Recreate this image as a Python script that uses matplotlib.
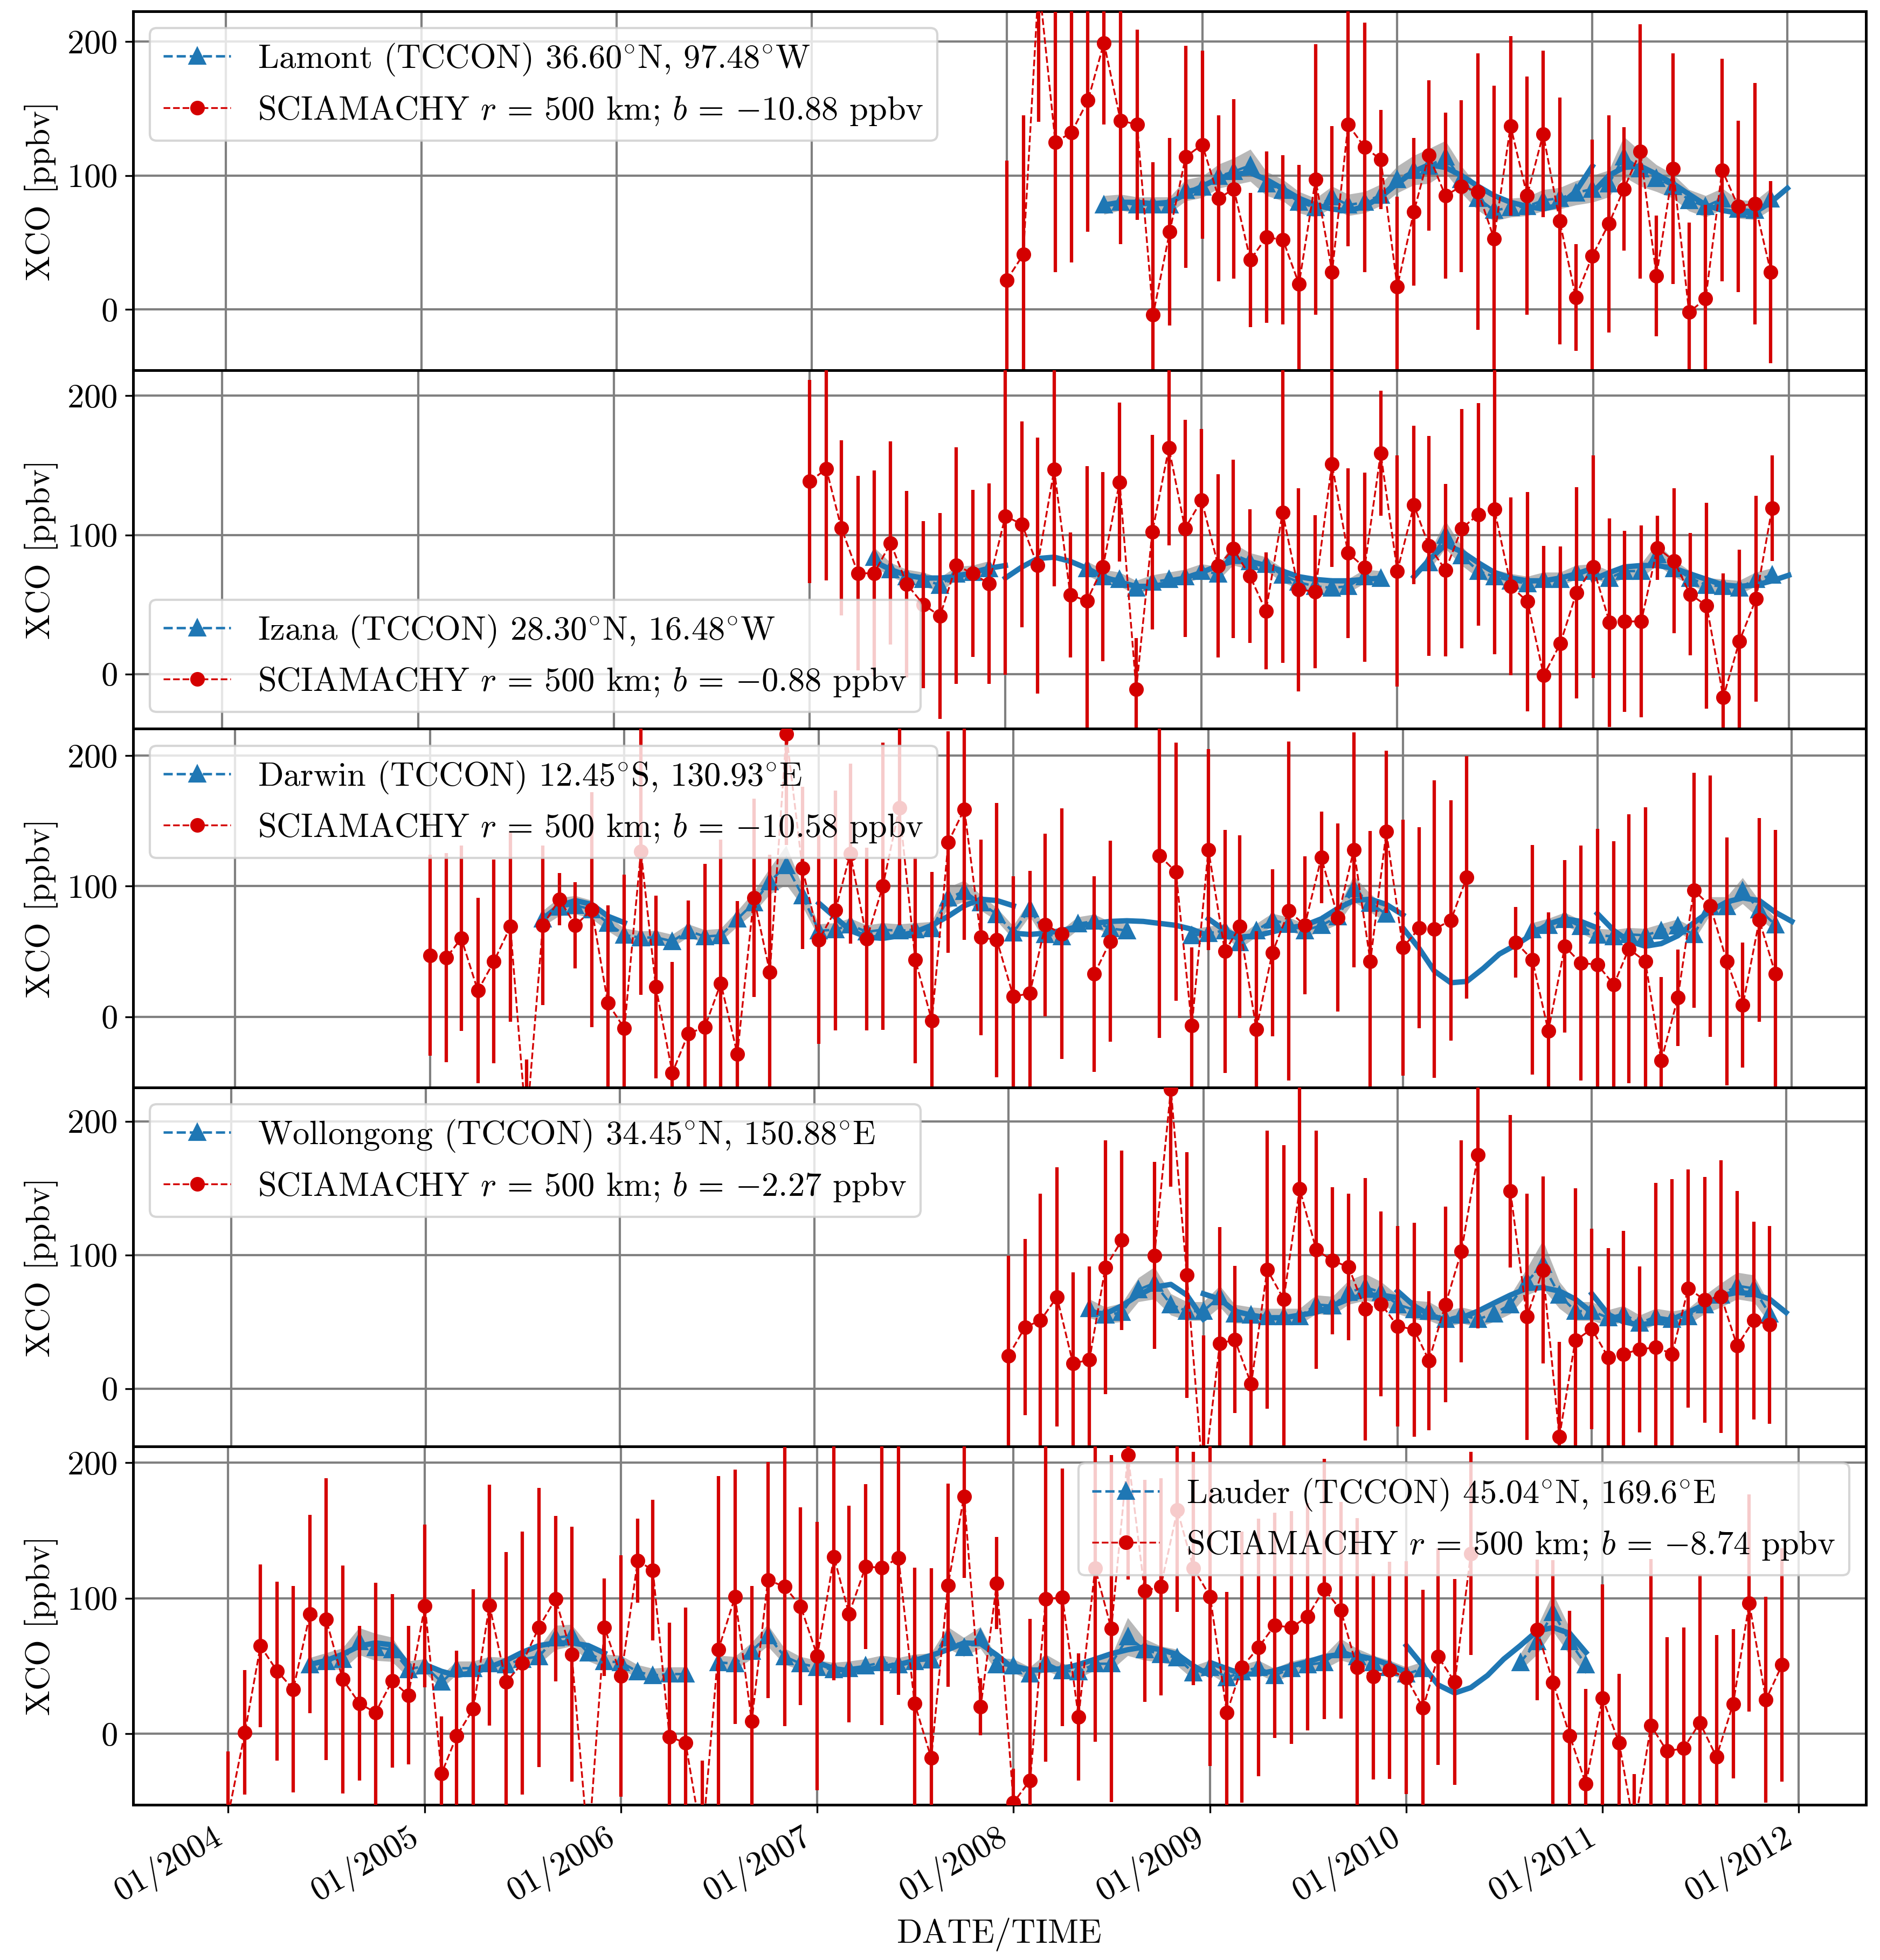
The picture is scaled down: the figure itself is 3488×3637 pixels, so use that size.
import numpy as np
import pandas as pd
import matplotlib
matplotlib.use("Agg")
import matplotlib.pyplot as plt
import matplotlib.dates as mdates
from matplotlib.ticker import MultipleLocator

plt.rcParams["font.family"] = ["cmr10", "DejaVu Serif"]
plt.rcParams["mathtext.fontset"] = "cm"
plt.rcParams["axes.formatter.use_mathtext"] = True
plt.rcParams["font.size"] = 15

nan = np.nan

# ---- Lamont ----
lamont_sci_start = "2008-01"
lamont_sci = [22, 41, 245, 125, 132, 156, 199, 141, 138, -4, 58, 114, 123, 83, 90, 37, 54, 52, 19, 97,
              28, 138, 121, 112, 17, 73, 115, 85, 92, 88, 53, 137, 85, 131, 66, 9, 40, 64, 90, 118,
              25, 105, -2, 8, 104, 77, 79, 28]
lamont_sci_err = [89, 104, 105, 97, 97, 98, 61, 92, 71, 114, 70, 83, 70, 62, 67, 50, 64, 63, 89, 101,
                  109, 91, 93, 37, 67, 55, 56, 62, 64, 103, 114, 67, 89, 62, 92, 40, 87, 81, 46, 95,
                  45, 86, 67, 70, 83, 64, 90, 68]
lamont_tc_start = "2008-07"
lamont_tc = [78, 80, 78, 78, 78, 89, 91.5, 99.5, 103, 107.6, 94, 89, 80, 76, 84, 78, 80, 85.5, 97, 104,
             107, 114, 97, 83, 74, 76, 77, 81.5, 83, 87, 90, 94, 114, 105, 98, 92, 81.5, 77, 82.5, 75,
             74, 82.5]
lamont_tc_sd = [7, 6, 6, 6, 6, 8, 8, 9, 10, 12, 9, 8, 8, 7, 8, 8, 8, 8, 10, 11,
                13, 12, 10, 9, 8, 7, 7, 8, 8, 9, 10, 10, 15, 13, 10, 9, 8, 8, 8, 7, 7, 8]
lamont_fit = [("2008-07", [78, 80, 80, 79, 80, 86, 92, 98, 101, 102, 97, 90, 83, 78, 75, 73.5, 77, 84,
                           94, 103, 108, 106, 100, 92, 85, 80, 77, 75, 78, 88, 107]),
              ("2011-01", [87, 100, 106, 107, 101, 94, 86, 78, 74, 72, 72.5, 80, 90.5])]

# ---- Izana ----
izana_sci_start = "2007-01"
izana_sci = [138.5, 147.4, 105, 72.4, 72.4, 94.2, 64.6, 50, 41.6, 78, 72.4, 65, 113.5, 107.6, 78,
             147, 56.8, 52.6, 77, 138, -11, 102, 162.6, 104.6, 125, 77.7, 90, 70.5, 45.3, 116,
             60.6, 59.3, 151, 87, 76.6, 158.7, 74, 121.4, 92, 74.7, 104.6, 114.7, 118.4, 63, 52,
             -1, 21.8, 58.4, 77, 37, 37.8, 37.8, 90.7, 81.4, 57.3, 49.2, -16.8, 23.5, 54, 119.2]
izana_sci_err = [73, 80, 63, 70, 74, 73, 67, 60, 74, 85, 60, 72, 114, 74, 92, 84, 45, 97, 68, 57,
                 37, 70, 70, 78, 51, 66, 64, 48, 42, 108, 73, 55, 74, 61, 68, 45, 83, 57, 79, 62,
                 86, 80, 104, 64, 79, 93, 70, 76, 80, 75, 65, 69, 23, 52, 44, 74, 89, 66, 74, 38]
izana_tc_start = "2007-05"
izana_tc = [84, 75, 70, 68, 64, 72, 73, 76, nan, nan, nan, nan, nan,
            76, 70, 68, 62, 66, 68, 70, 74, 72, 86, 81, 79, 71, 66, 63, 62, 63, 70, 69, nan, nan,
            80, 100, 85, 74, 70, 67, 65, 68, 68, 73, 74, 69, 74, 74, 86, 76, 69, 64, 63, 62, 68, 71]
izana_tc_sd = [7, 5, 5, 5, 5, 5, 5, 5, nan, nan, nan, nan, nan,
               5, 5, 5, 5, 5, 5, 5, 5, 5, 8, 6, 5, 5, 5, 5, 5, 5, 5, 5, nan, nan,
               6, 10, 7, 5, 5, 5, 5, 5, 5, 5, 5, 5, 5, 5, 8, 6, 5, 5, 5, 5, 5, 5]
izana_fit = [("2007-05", [81, 75, 71, 69, 69, 70, 73, 76, 78]),
             ("2008-01", [69, 77, 83, 84, 81, 76, 70, 66, 63, 63, 65, 69, 73, 78, 81, 81, 78, 74,
                          70, 68, 67, 67, 68, 69]),
             ("2010-02", [70, 82, 93, 88, 80, 73, 69, 67, 67, 69, 72, 76]),
             ("2011-01", [68, 73, 77, 78, 78, 76, 72, 68, 64, 63, 64, 67, 71])]

# ---- Darwin ----
darwin_sci_start = "2005-01"
darwin_sci = [47, 45.3, 60, 19.9, 42.2, 69, -85, 70, 90, 70, 82, 10.4, -9, 126.7, 22.9, -43, -13, -8,
              25.6, -28.6, 91.2, 34, 216.5, 114, 59, 81.4, 125, 59.6, 100, 160, 43.5, -3, 133.8, 159,
              60.8, 58.7, 15.4, 17.9, 70.3, 63.5, nan, 32.7, 57.8, nan, nan, 123.5, 111, -7, 128, 50,
              69, -9.5, 49, 81, 70, 122, 76, 128, 42.4, 141.7, 53, 68, 67, 73.8, 106.9, nan, nan, 57,
              43.6, -11, 53.8, 41, 40, 24.5, 52, 42.4, -33.8, 14.5, 97, 84.7, 42.5, 8.8, 74, 33]
darwin_sci_err = [77, 80, 71, 71, 78, 73, 52, 61, 20, 33, 90, 75, 118, 110, 70, 85, 102, 125, 110, 117,
                  76, 90, 85, 62, 80, 92, 69, 70, 110, 90, 79, 114, 85, 100, 75, 105, 92, 94, 70, 96,
                  nan, 75, 77, nan, nan, 140, 99, 60, 77, 93, 70, 75, 64, 130, 53, 35, 72, 90, 100, 62,
                  98, 77, 114, 92, 93, nan, nan, 27, 88, 91, 66, 90, 104, 110, 103, 118, 64, 37, 90, 100,
                  95, 48, 78, 110]
darwin_tc_start = "2005-08"
darwin_tc = [75, 84, 85.5, 82, 71.6, 62.6, 60.5, 60.8, 57.8, 65.8, 61.4, 62.3, 74.8, 87.3, 103.4, 116, 92.7,
             65.8, 66.7, 70.3, 65, 66.7, 65.8, 66.7, 67.6, 90.9, 96.2, 87.3, 78.4, 64.4, 82.8, 63.1, 61.4,
             71.2, 73.3, 67.6, 66, nan, nan, nan,
             62, 64, 66, 57, 66, 74, 71, 66, 70, 76.5, 98, 87, 78.5,
             nan, nan, nan, nan, nan, nan, nan, nan,
             66.7, 70, 74.7, 69, 62.4, 61.5, 63, 62.4, 66, 69.5, 63, 84.6, 84.6, 96.3, 82, 70.4]
darwin_tc_sd = [6, 7, 7, 7, 6, 5, 5, 5, 5, 5, 5, 5, 6, 8, 10, 15, 8,
                5, 5, 5, 5, 5, 5, 5, 5, 8, 8, 6, 5, 5, 6, 5, 5, 5, 5, 5, 5, nan, nan, nan,
                5, 5, 5, 5, 5, 5, 5, 5, 5, 6, 10, 7, 6,
                nan, nan, nan, nan, nan, nan, nan, nan,
                5, 5, 5, 5, 5, 5, 5, 5, 5, 5, 5, 7, 7, 10, 7, 5]
darwin_fit = [("2005-08", [75, 85, 89, 86, 77, 72]),
              ("2007-01", [87, 76, 66, 61, 60, 62, 65, 70, 77, 85, 90, 89, 85]),
              ("2008-01", [64, 63, 64, 66, 69, 71.5, 73, 73.5, 73, 71.5, 70, 67, 62]),
              ("2009-01", [75, 66, 61, 62, 65, 68, 70, 75, 83, 89, 90, 86, 78]),
              ("2010-01", [68, 52, 35, 26, 27, 37, 48, 55, 63, 71, 75, 73, 68]),
              ("2011-01", [79, 66, 58, 54, 56, 62, 72, 81, 88, 91, 89, 80, 73])]

# ---- Wollongong ----
woll_sci_start = "2008-01"
woll_sci = [24.6, 46, 51, 68.6, 18.9, 21.5, 90.8, 111, nan, 99.6, 224, 85, -70, 33.7, 36.7, 3.5, 89, 67,
            149.5, 104, 95.7, 91, 59.4, 63.4, 46.8, 44.2, 21, 63, 102.7, 175, nan, 147.8, 53.8, 88.7,
            -36, 36, 44.7, 23.2, 25.9, 29.3, 31, 25.9, 75, 66.4, 69, 32, 51, 47.7]
woll_sci_err = [75, 66, 95, 97, 68, 70, 95, 67, nan, 70, 73, 92, 110, 87, 55, 48, 104, 115, 100, 89,
                55, 55, 98, 69, 75, 80, 52, 73, 83, 130, nan, 57, 92, 70, 71, 114, 75, 82, 92, 62,
                123, 131, 89, 92, 102, 116, 74, 74]
woll_tc_start = "2008-06"
woll_tc = [60, 55, 57, 74, 79, 63, 58, 58, 69, 56, 55, 54, 54, 54, 63, 62, 72, 76, 72, 63,
           59, 58, 52, 55, 52, 56, 63, 80, 93, 70, 58, 58, 53, 56, 49, 54, 52, 54, 63, 70, 77, 75, 56]
woll_tc_sd = [7, 6, 7, 9, 12, 8, 7, 7, 8, 7, 6, 6, 6, 6, 7, 7, 9, 10, 8, 7,
              7, 7, 6, 6, 6, 6, 7, 10, 18, 10, 7, 7, 6, 6, 6, 6, 6, 6, 7, 9, 10, 10, 7]
woll_fit = [("2008-06", [57, 56, 62, 70, 76, 78, 70, 52]),
            ("2009-01", [71, 67, 58, 55, 53, 53, 55, 57, 62, 67, 70, 70, 68]),
            ("2010-01", [73, 62, 55.5, 51, 53, 58, 64, 70, 75, 75.6, 73, 67, 57]),
            ("2011-01", [71, 55.5, 50, 47.7, 49.4, 52, 57, 63, 69.5, 72, 71, 67, 57])]

# ---- Lauder ----
lauder_sci_start = "2004-01"
lauder_sci = [-60, 0.9, 64.7, 46.2, 32.8, 88.3, 84.5, 40, 22.4, 15.5, 39, 28.4, 94.3, -29.3, -1.7, 18.4,
              94.8, 38, 52, 78.4, 99.5, 58.6, -85, 78.4, 42.6, 127.6, 120.7, -2.2, -6.9, -80, 62, 101,
              9.1, 113.3, 108.6, 94, 57.4, 130.5, 88.4, 123.3, 122.4, 129.7, 22.4, -18, 109.5, 175,
              19.8, 111, -50.8, -34.4, 99.3, 100.7, 12.4, 122, 77.5, 205.7, 105.5, 108.4, 165, 122,
              101.2, 15.5, 49, 63.7, 80, 78.3, 86.4, 106.7, 91.2, 49, 42.2, 46.8, 41.3, 19, 56.8,
              38.2, 133, nan, nan, nan, 76.6, 37.9, -1.4, -37, 26.2, -6.9, -70, 6, -12.9, -10.8,
              8.1, -17.2, 22, 96.4, 25, 50.8]
lauder_sci_err = [47, 46, 60, 66, 76, 73, 104, 84, 57, 96, 64, 51, 60, 42, 63, 88, 89, 96, 97, 103,
                  61, 94, 30, 36, 89, 31, 52, 84, 100, 60, 128, 94, 100, 87, 103, 73, 99, 91, 80, 61,
                  116, 101, 100, 140, 75, 60, 21, 34, 25, 119, 120, 95, 47, 128, 128, 92, 82, 80, 75, 86,
                  125, 89, 100, 95, 83, 86, 84, 96, 80, 110, 76, 80, 86, 87, 80, 76, 75, nan, nan, nan,
                  52, 90, 92, 70, 84, 51, 40, 123, 84, 89, 109, 90, 55, 80, 76, 86]
lauder_tc_start = "2004-06"
lauder_tc = [50.9, 53.4, 55, 68, 63.8, 62, 47.4, 50, 38, 48.3,
             48.3, 51.7, 50.9, 55, 57, 70.7, 72.4, 59.5, 53.4, 52.6, 45.7, 43, 44, 44, nan,
             52.6, 51.7, 61, 72.4, 57, 51.7, 49, 47.4, 48.3, 50, 52.6, 50.9, 53.4, 54.3, 70.7, 63.8, 70.7, 50.9,
             50, 44, 52.5, 46.5, 45.6, 51.6, 51.6, 71.4, 62, 58.5, 56, 44.8, 49, 41.3, 45.6, 49, 43, 48.2,
             50.8, 52.5, 62, 56.8, 52.5, 49, 44, 48,
             nan, nan, nan, nan, nan, 52.5, 68, 89.5, 68, 50.8]
lauder_tc_sd = [5, 6, 8, 10, 10, 9, 6, 5, 5, 5,
                5, 5, 5, 5, 6, 9, 8, 6, 5, 5, 5, 5, 5, 5, nan,
                5, 5, 6, 8, 6, 5, 5, 5, 5, 5, 5, 5, 5, 5, 8, 7, 8, 5,
                5, 5, 6, 5, 5, 5, 5, 14, 8, 6, 6, 5, 5, 5, 5, 5, 5, 5,
                5, 5, 8, 6, 5, 5, 5, 5,
                nan, nan, nan, nan, nan, 6, 10, 14, 10, 7]
lauder_fit = [("2004-06", [51, 54, 58.6, 64.7, 67, 65.5, 51]),
              ("2005-01", [51, 46, 43, 45, 49, 54, 60, 65, 67, 67, 65, 59.5]),
              ("2007-01", [52.6, 48, 46.5, 47, 49, 51, 54, 57.8, 62, 67, 66.4, 58, 48]),
              ("2008-01", [50, 47, 47, 48, 51, 55, 59, 62, 64, 62, 58.5, 50, 43]),
              ("2009-01", [52.5, 48, 44, 44, 46.5, 50, 53, 56.8, 58.5, 57.7, 55, 50.8, 45.6]),
              ("2010-01", [65, 50, 36, 30, 34, 43, 55, 65, 75.7, 78.3, 74, 60])]

site_labels = [r"Lamont (TCCON) $36.60^{\circ}$N, $97.48^{\circ}$W",
               r"Izana (TCCON) $28.30^{\circ}$N, $16.48^{\circ}$W",
               r"Darwin (TCCON) $12.45^{\circ}$S, $130.93^{\circ}$E",
               r"Wollongong (TCCON) $34.45^{\circ}$N, $150.88^{\circ}$E",
               r"Lauder (TCCON) $45.04^{\circ}$N, $169.6^{\circ}$E"]
biases = ["10.88", "0.88", "10.58", "2.27", "8.74"]
xlims = [("2003-07-11", "2012-05-27"), ("2003-07-19", "2012-05-24"), ("2003-06-24", "2012-05-19"),
         ("2003-07-01", "2012-05-30"), ("2003-07-08", "2012-05-05")]
ylims = [(-45.2, 222.5), (-39.4, 218.5), (-54.3, 220.6), (-43.1, 225.3), (-52.6, 212.1)]
legend_locs = ["upper left", "lower left", "upper left", "upper left", "upper right"]

sites = [
    (lamont_sci_start, lamont_sci, lamont_sci_err, lamont_tc_start, lamont_tc, lamont_tc_sd, lamont_fit),
    (izana_sci_start, izana_sci, izana_sci_err, izana_tc_start, izana_tc, izana_tc_sd, izana_fit),
    (darwin_sci_start, darwin_sci, darwin_sci_err, darwin_tc_start, darwin_tc, darwin_tc_sd, darwin_fit),
    (woll_sci_start, woll_sci, woll_sci_err, woll_tc_start, woll_tc, woll_tc_sd, woll_fit),
    (lauder_sci_start, lauder_sci, lauder_sci_err, lauder_tc_start, lauder_tc, lauder_tc_sd, lauder_fit),
]

RED = "#d40000"
BLUE = "#1f77b4"


def months(start, n):
    return pd.date_range(start, periods=n, freq="MS").to_pydatetime()


fig, axes = plt.subplots(5, 1, figsize=(3488 / 300, 3637 / 300), dpi=300)
fig.subplots_adjust(left=0.0708, right=0.9925, top=0.9942, bottom=0.0791, hspace=0)

for i, ax in enumerate(axes):
    s_start, s_val, s_err, t_start, t_val, t_sd, fits = sites[i]
    s_val = np.array(s_val, float)
    s_err = np.array(s_err, float)
    t_val = np.array(t_val, float)
    t_sd = np.array(t_sd, float)
    sd = months(s_start, len(s_val))
    td = months(t_start, len(t_val))

    ax.fill_between(td, t_val - t_sd, t_val + t_sd, color="0.72", lw=0, zorder=1)
    tline, = ax.plot(td, t_val, "^--", color=BLUE, ms=6.5, lw=1.1, zorder=3)
    for f_start, f_val in fits:
        ax.plot(months(f_start, len(f_val)), f_val, "-", color=BLUE, lw=2.4, zorder=3.5)
    sc = ax.errorbar(sd, s_val, yerr=s_err, fmt="o--", color=RED, ms=5.5, lw=0.8,
                     elinewidth=1.5, capsize=0, zorder=4)

    sci_label = r"SCIAMACHY $r$ = 500 km; $b$ = $-$%s ppbv" % biases[i]
    ax.legend([tline, sc[0]], [site_labels[i], sci_label], loc=legend_locs[i], fontsize=15)

    ax.set_xlim(pd.Timestamp(xlims[i][0]), pd.Timestamp(xlims[i][1]))
    ax.set_ylim(*ylims[i])
    ax.yaxis.set_major_locator(MultipleLocator(100))
    ax.xaxis.set_major_locator(mdates.YearLocator())
    ax.xaxis.set_major_formatter(mdates.DateFormatter("%m/%Y"))
    ax.grid(True, color="0.5", lw=1.0)
    ax.set_ylabel("XCO [ppbv]")
    for sp in ax.spines.values():
        sp.set_linewidth(1.2)
    if i < 4:
        ax.tick_params(axis="x", labelbottom=False)

for lab in axes[-1].get_xticklabels():
    lab.set_rotation(30)
    lab.set_ha("right")
axes[-1].set_xlabel("DATE/TIME")

fig.savefig("out.png", dpi=300)
